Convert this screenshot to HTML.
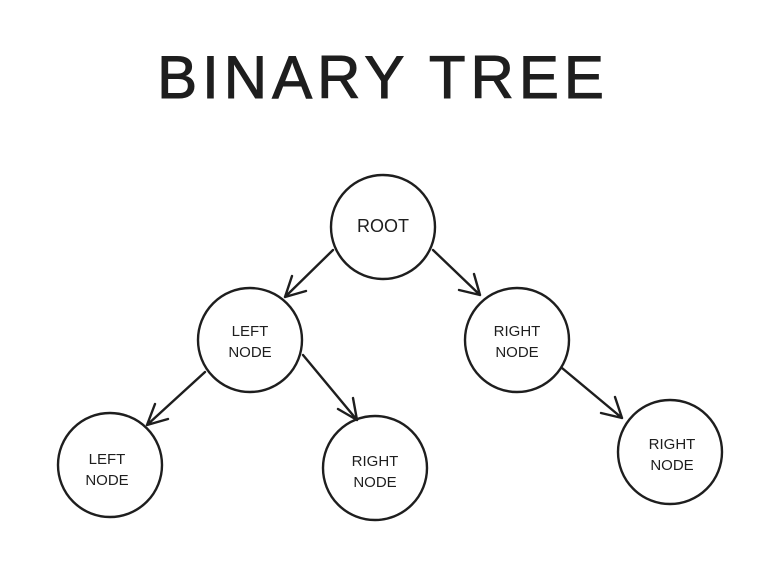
<!DOCTYPE html>
<html><head><style>
body{margin:0;background:#fff;width:774px;height:574px;overflow:hidden}
svg{display:block}
text{font-family:"Liberation Sans",sans-serif;fill:#1e1e1e}
</style></head><body>
<svg width="774" height="574" viewBox="0 0 774 574">
<text x="383" y="98" font-size="60" text-anchor="middle" letter-spacing="5" stroke="#1e1e1e" stroke-width="1">BINARY TREE</text>
<g fill="none" stroke="#1e1e1e" stroke-width="2.4" stroke-linecap="round">
<circle cx="383" cy="227" r="52"/>
<circle cx="250" cy="340" r="52"/>
<circle cx="517" cy="340" r="52"/>
<circle cx="110" cy="465" r="52"/>
<circle cx="375" cy="468" r="52"/>
<circle cx="670" cy="452" r="52"/>
<path d="M333 250 L285 297 M285 297 L292 276 M285 297 L306 291"/>
<path d="M433 250 L480 295 M480 295 L459 290 M480 295 L474 274"/>
<path d="M205 372 L147 425 M147 425 L155 404 M147 425 L168 419"/>
<path d="M303 355 L357 420 M357 420 L338 409 M357 420 L353 398"/>
<path d="M562 368 L622 418 M622 418 L601 413 M622 418 L615 397"/>
</g>
<g font-size="15" text-anchor="middle">
<text x="383" y="232" font-size="18">ROOT</text>
<text x="250" y="336">LEFT</text><text x="250" y="357">NODE</text>
<text x="517" y="336">RIGHT</text><text x="517" y="357">NODE</text>
<text x="107" y="464">LEFT</text><text x="107" y="485">NODE</text>
<text x="375" y="466">RIGHT</text><text x="375" y="487">NODE</text>
<text x="672" y="449">RIGHT</text><text x="672" y="470">NODE</text>
</g>
</svg>
</body></html>
